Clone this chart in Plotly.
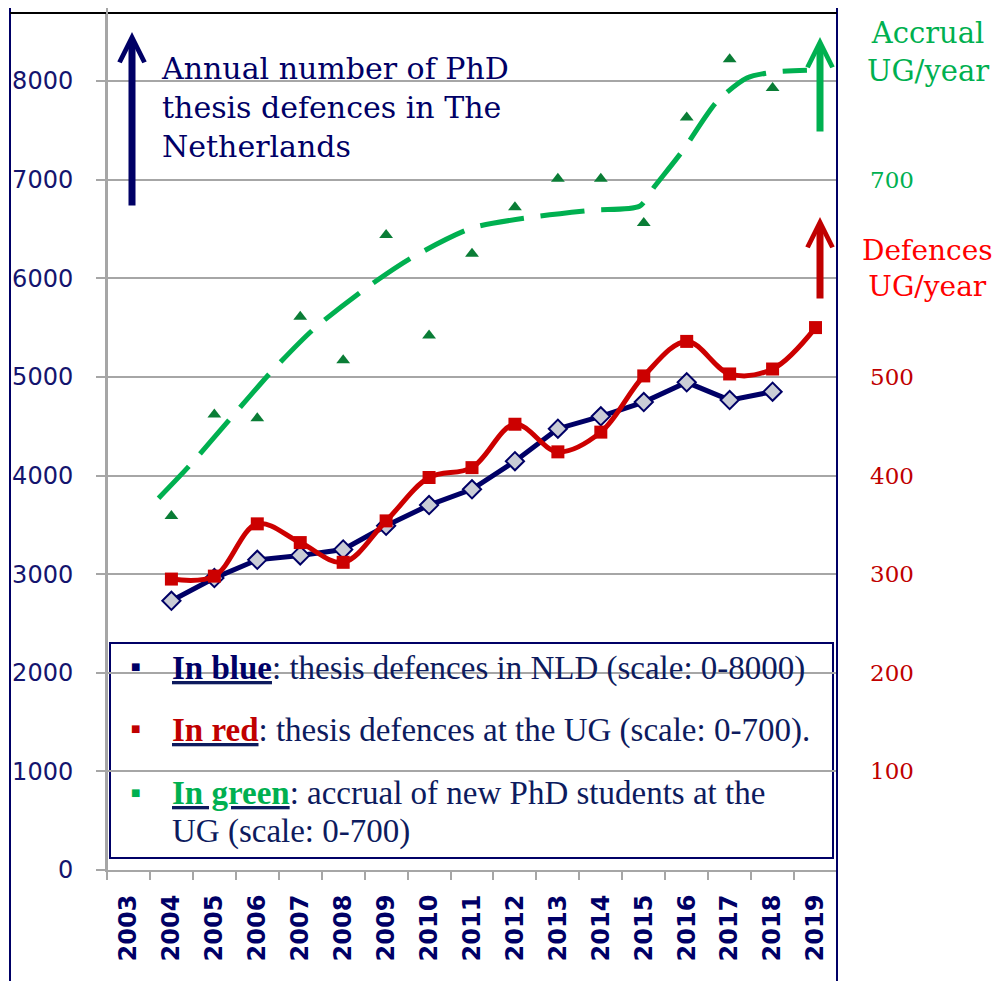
import plotly.graph_objects as go

# ---------------- data ----------------
years = list(range(2003, 2020))
year_labels = [str(y) for y in years]

nld_years = list(range(2004, 2019))
nld_defences = [2730, 2960, 3145, 3190, 3250, 3490, 3700, 3860, 4145, 4475, 4600, 4745, 4945, 4765, 4850]

ug_years = list(range(2004, 2020))
ug_defences = [295, 298, 351, 332, 312, 354, 398, 408, 452, 424, 444, 501, 536, 503, 508, 550]

accrual_years = list(range(2004, 2019))
ug_accrual = [359, 462, 458, 561, 517, 644, 542, 625, 672, 701, 701, 656, 763, 822, 793]

trend_years = [2003.7, 2004.4, 2005.4, 2006.3, 2007.3, 2008.5, 2009.6, 2011.0, 2012.4, 2013.8,
               2014.9, 2015.25, 2015.9, 2016.7, 2017.4, 2018.0, 2018.8]
trend_accrual = [377, 409, 459, 504, 548, 589, 621, 651, 662, 669, 673, 693, 729, 779, 803, 809, 811]

left_ticks = [0, 1000, 2000, 3000, 4000, 5000, 6000, 7000, 8000]
right_ticks = [100, 200, 300, 400, 500, 700]
right_tick_colors = ["#C00000", "#C00000", "#C00000", "#C00000", "#C00000", "#00B050"]

# ---------------- layout helpers ----------------
W, H = 997, 981
L, R, T, B = 107, 160, 13, 111
PW, PH = W - L - R, H - T - B


def px_x(px):
    return (px - L) / PW


def px_y(py):
    return (H - B - py) / PH


NAVY = "#000066"
TEXT_NAVY = "#0D1B5E"
GRID = "#A6A6A6"
RED = "#CC0000"
GREEN = "#00B050"
DARK_GREEN = "#0A7D36"

fig = go.Figure()

fig.add_trace(go.Scatter(
    x=trend_years, y=trend_accrual, xaxis="x", yaxis="y2", mode="lines",
    line=dict(color=GREEN, width=5, dash="44px,17px", shape="spline", smoothing=0.7),
    hoverinfo="skip", showlegend=False))

fig.add_trace(go.Scatter(
    x=accrual_years, y=ug_accrual, xaxis="x", yaxis="y2", mode="markers",
    marker=dict(symbol="triangle-up", size=12, color=DARK_GREEN),
    showlegend=False))

fig.add_trace(go.Scatter(
    x=nld_years, y=nld_defences, mode="lines+markers",
    line=dict(color=NAVY, width=5),
    marker=dict(symbol="diamond", size=14, color="#C9CCD6", line=dict(color=NAVY, width=2)),
    showlegend=False))

fig.add_trace(go.Scatter(
    x=ug_years, y=ug_defences, xaxis="x", yaxis="y2", mode="lines+markers",
    line=dict(color=RED, width=5, shape="spline", smoothing=1.0),
    marker=dict(symbol="square", size=13, color=RED),
    showlegend=False))

boundaries = [y - 0.5 for y in years] + [years[-1] + 0.5]

fig.update_layout(
    width=W, height=H,
    margin=dict(l=L, r=R, t=T, b=B, pad=0),
    paper_bgcolor="white", plot_bgcolor="white",
    showlegend=False,
    xaxis=dict(
        range=[years[0] - 0.5, years[-1] + 0.5],
        tickvals=years, ticktext=year_labels, tickangle=-90,
        ticks="", ticklabelstandoff=13,
        tickfont=dict(family="DejaVu Sans", size=24, color=NAVY, weight="bold"),
        showgrid=False, zeroline=False,
        showline=True, linecolor=GRID, linewidth=2,
        minor=dict(tickvals=boundaries, ticks="outside", ticklen=8,
                   tickcolor=GRID, tickwidth=2, showgrid=False),
    ),
    yaxis=dict(
        range=[0, 8690], tickvals=left_ticks,
        ticktext=[str(v) for v in left_ticks],
        ticks="outside", ticklen=9, tickcolor=GRID, tickwidth=2,
        ticklabelstandoff=18,
        tickfont=dict(family="DejaVu Sans", size=24, color="#14146E"),
        showgrid=True, gridcolor=GRID, gridwidth=2,
        zeroline=False, showline=True, linecolor=GRID, linewidth=2,
    ),
    yaxis2=dict(
        range=[0, 869], overlaying="y", side="right",
        tickvals=right_ticks,
        ticktext=[f"<span style='color:{c}'>{v}</span>" for v, c in zip(right_ticks, right_tick_colors)],
        ticks="", ticklabelstandoff=32,
        tickfont=dict(family="DejaVu Serif", size=23, color="#C00000"),
        showgrid=False, zeroline=False, showline=False,
    ),
)

shapes = []
# white box behind the title text (hides part of top gridline)
shapes.append(dict(type="rect", xref="paper", yref="paper",
                   x0=px_x(143), x1=px_x(555), y0=px_y(172), y1=px_y(30),
                   fillcolor="white", line=dict(width=0), layer="between"))
# legend box
shapes.append(dict(type="rect", xref="paper", yref="paper",
                   x0=px_x(110), x1=px_x(833), y0=px_y(858), y1=px_y(643),
                   fillcolor="white", line=dict(color=NAVY, width=2), layer="between"))
# outer frame
shapes.append(dict(type="line", xref="paper", yref="paper",
                   x0=px_x(10), x1=px_x(10), y0=px_y(8), y1=px_y(981),
                   line=dict(color=NAVY, width=2)))
shapes.append(dict(type="line", xref="paper", yref="paper",
                   x0=px_x(837), x1=px_x(837), y0=px_y(8), y1=px_y(981),
                   line=dict(color=NAVY, width=2)))
shapes.append(dict(type="line", xref="paper", yref="paper",
                   x0=px_x(10), x1=px_x(837), y0=px_y(13), y1=px_y(13),
                   line=dict(color="black", width=2)))
shapes.append(dict(type="line", xref="paper", yref="paper",
                   x0=px_x(107), x1=px_x(107), y0=px_y(8), y1=px_y(870),
                   line=dict(color=GRID, width=2)))
fig.update_layout(shapes=shapes)

ann = []
# arrows
for tip_x, tip_y, tail_y, col in [(132, 32, 207, NAVY), (820, 37, 133, GREEN), (820, 217, 300, "#C00000")]:
    ann.append(dict(xref="paper", yref="paper", x=px_x(tip_x), y=px_y(tip_y),
                    ax=0, ay=tail_y - tip_y, axref="pixel", ayref="pixel",
                    text="", showarrow=True, arrowhead=5, arrowwidth=7, arrowsize=0.7,
                    arrowcolor=col, standoff=0))

serif = "DejaVu Serif"
ann.append(dict(xref="paper", yref="paper", x=px_x(159), y=px_y(107),
                xanchor="left", yanchor="middle", align="left", showarrow=False,
                text="Annual number of PhD<br>thesis defences in The<br>Netherlands",
                font=dict(family=serif, size=30, color=NAVY)))
ann.append(dict(xref="paper", yref="paper", x=px_x(928), y=px_y(52),
                xanchor="center", yanchor="middle", align="center", showarrow=False,
                text="Accrual<br>UG/year", font=dict(family=serif, size=29, color=GREEN)))
ann.append(dict(xref="paper", yref="paper", x=px_x(927), y=px_y(268),
                xanchor="center", yanchor="middle", align="center", showarrow=False,
                text="Defences<br>UG/year", font=dict(family=serif, size=28, color="#FF0000")))

# legend texts
lfont = dict(family="Liberation Serif", size=33, color=TEXT_NAVY)
legend_lines = [
    (668, f"<b><u><span style='color:{NAVY}'>In blue</span></u></b>: thesis defences in NLD (scale: 0-8000)"),
    (730, "<b><u><span style='color:#C00000'>In red</span></u></b>: thesis defences at the UG (scale: 0-700)."),
    (793, f"<b><u><span style='color:{GREEN}'>In green</span></u></b>: accrual of new PhD students at the"),
    (831, "UG (scale: 0-700)"),
]
for yy, txt in legend_lines:
    ann.append(dict(xref="paper", yref="paper", x=px_x(170), y=px_y(yy),
                    xanchor="left", yanchor="middle", align="left", showarrow=False,
                    text=txt, font=lfont))
for yy, col in [(666, NAVY), (728, "#C00000"), (792, GREEN)]:
    ann.append(dict(xref="paper", yref="paper", x=px_x(135), y=px_y(yy),
                    xanchor="center", yanchor="middle", showarrow=False,
                    text="■", font=dict(family="DejaVu Sans", size=10, color=col)))

fig.update_layout(annotations=ann)

fig.write_html("out.html", config={"displayModeBar": False},
               post_script="document.body.style.margin='0';")
